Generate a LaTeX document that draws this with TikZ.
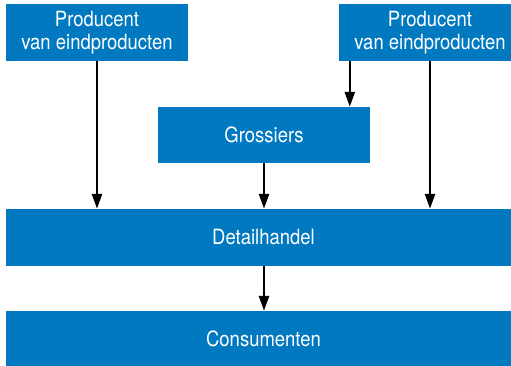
\documentclass[tikz,border=0pt]{standalone}
\usepackage{fontspec}
\setmainfont[FakeStretch=0.88]{TeX Gyre Heros}
\usetikzlibrary{arrows.meta,positioning}
\definecolor{schakel}{HTML}{0079C1}

\begin{document}
\begin{tikzpicture}[x=1pt,y=-1pt,>={Triangle[length=15pt,width=10pt]},
	blok/.style={fill=schakel,text=white,inner sep=0pt,align=center,
		font=\fontsize{21}{23.3}\selectfont},
	pijl/.style={->,line width=2.6pt}]
	\useasboundingbox (0,0) rectangle (511,366);
	\node[blok,minimum width=182pt,minimum height=57pt] (prod_l) at (97,32.5) {Producent\\van eindproducten};
	\node[blok,minimum width=182pt,minimum height=57pt] (prod_r) at (430,32.5) {Producent\\van eindproducten};
	\node[blok,minimum width=212pt,minimum height=56pt] (gros) at (264,135) {Grossiers};
	\node[blok,minimum width=515pt,minimum height=57pt] (detail) at (263.5,237.5) {Detailhandel};
	\node[blok,minimum width=515pt,minimum height=56pt] (cons) at (263.5,339) {Consumenten};
	\path[pijl]
		(prod_l.south) edge (prod_l.south |- detail.north)
		([xshift=11pt]prod_r.south west) edge ([xshift=11pt]prod_r.south west |- gros.north)
		(prod_r.south) edge (prod_r.south |- detail.north)
		(gros.south) edge (gros.south |- detail.north)
		(detail.south -| gros.south) edge (gros.south |- cons.north);
\end{tikzpicture}
\end{document}
